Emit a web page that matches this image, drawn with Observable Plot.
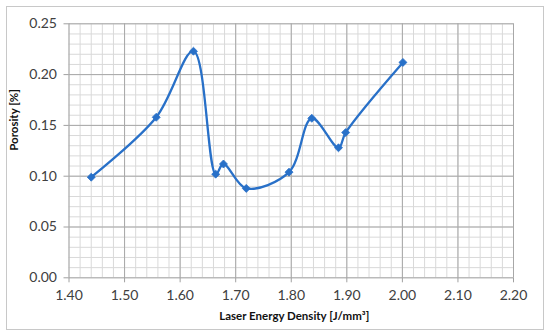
<!DOCTYPE html>
<html>
<head>
<meta charset="utf-8">
<script src="https://cdn.jsdelivr.net/npm/d3@7"></script>
<script src="https://cdn.jsdelivr.net/npm/@observablehq/plot@0.6"></script>
<style>
  html, body { margin: 0; padding: 0; background: #fff; }
  #wrap { position: relative; width: 550px; height: 336px; }
  #frame { position: absolute; left: 6px; top: 6px; width: 536px; height: 322px; border: 1px solid #c8c8c8; pointer-events: none; }
</style>
</head>
<body>
<div id="wrap"><div id="frame"></div></div>
<script>
// Data
const energy   = [1.440, 1.557, 1.624, 1.664, 1.678, 1.719, 1.796, 1.837, 1.885, 1.898, 2.001];
const porosity = [0.099, 0.158, 0.223, 0.102, 0.112, 0.088, 0.104, 0.157, 0.128, 0.143, 0.212];

const xTicks = [1.40, 1.50, 1.60, 1.70, 1.80, 1.90, 2.00, 2.10, 2.20];
const yTicks = [0.00, 0.05, 0.10, 0.15, 0.20, 0.25];
const xMinor = d3.range(0, 41).map(i => 1.40 + i * 0.02);
const yMinor = d3.range(0, 26).map(i => i * 0.01);

const xTitle = "Laser Energy Density [J/mm³]";
const yTitle = "Porosity [%]";

const data = energy.map((e, i) => ({x: e, y: porosity[i]}));
const blue = "#2870c8";

const chart = Plot.plot({
  width: 550,
  height: 336,
  marginLeft: 68.5,
  marginRight: 37,
  marginTop: 23.3,
  marginBottom: 58.7,
  style: {fontFamily: "Lato, 'Open Sans', sans-serif", background: "white", overflow: "visible"},
  x: {domain: [1.40, 2.20]},
  y: {domain: [0, 0.25]},
  marks: [
    Plot.ruleX(xMinor, {stroke: "#d9d9d9", strokeWidth: 1}),
    Plot.ruleY(yMinor, {stroke: "#d9d9d9", strokeWidth: 1}),
    Plot.ruleX(xTicks, {stroke: "#a8a8a8", strokeWidth: 1}),
    Plot.ruleY(yTicks, {stroke: "#a8a8a8", strokeWidth: 1}),
    Plot.axisX({ticks: xTicks, tickFormat: d => d.toFixed(2), tickSize: 5, tickPadding: 7, fontSize: 14, color: "#404040", stroke: "#a0a0a0", label: null}),
    Plot.axisY({ticks: yTicks, tickFormat: d => d.toFixed(2), tickSize: 5, tickPadding: 7, fontSize: 14, color: "#404040", stroke: "#a0a0a0", label: null}),
    Plot.line(data, {x: "x", y: "y", curve: "catmull-rom", stroke: blue, strokeWidth: 2.3}),
    Plot.dot(data, {x: "x", y: "y", symbol: "diamond2", r: 3.6, fill: blue, stroke: blue, strokeWidth: 0.8}),
    Plot.text([xTitle], {text: d => d, frameAnchor: "bottom", lineAnchor: "middle", dy: 39, dx: 3, fontSize: 11.5, fontWeight: "bold", fill: "#111"}),
    Plot.text([yTitle], {text: d => d, frameAnchor: "left", lineAnchor: "middle", rotate: -90, dx: -55, dy: 0, fontSize: 11.5, fontWeight: "bold", fill: "#111"})
  ]
});
document.getElementById("wrap").prepend(chart);
</script>
</body>
</html>
